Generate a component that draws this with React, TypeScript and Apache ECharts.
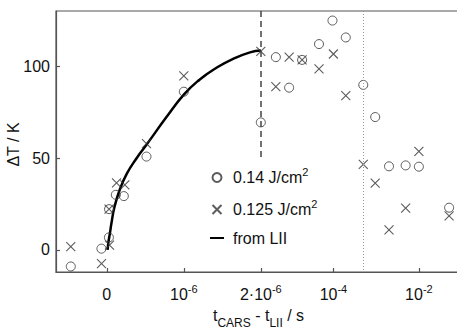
import React, { useEffect, useRef } from 'react';
import * as echarts from 'echarts';

// ---- axis mapping: linear up to 2 µs, logarithmic beyond ----
const LIN_END = 2e-6; // s
const US = 1e-6; // one axis unit in the linear part
const DECADE = 0.555; // axis units per decade in the log part

function toAxis(t: number): number {
  if (t <= LIN_END) return t / US;
  return LIN_END / US + Math.log10(t / LIN_END) * DECADE;
}

// ---- data (t in seconds, ΔT in K) ----
const circleName = '0.14 J/cm2';
const circleT = [-0.468e-6, -0.07e-6, 0.027e-6, 0.029e-6, 0.117e-6, 0.221e-6, 0.515e-6, 1.0e-6, 2.0e-6, 4.5e-6, 9.2e-6, 1.85e-5, 4.6e-5, 9.5e-5, 1.95e-4, 5e-4, 9.5e-4, 2e-3, 4.9e-3, 1e-2, 5.1e-2];
const circleY = [-9, 0.7, 6.8, 22.2, 30, 29.3, 50.8, 86.1, 69.4, 104.9, 88.3, 103.4, 112, 124.8, 115.6, 89.8, 72.3, 45.5, 46, 45.3, 23];

const crossName = '0.125 J/cm2';
const crossT = [-0.468e-6, -0.069e-6, 0.035e-6, 0.029e-6, 0.126e-6, 0.234e-6, 0.515e-6, 1.0e-6, 2.0e-6, 4.5e-6, 9.2e-6, 1.85e-5, 4.6e-5, 1e-4, 1.95e-4, 5e-4, 9.5e-4, 2e-3, 4.9e-3, 1e-2, 5.1e-2];
const crossY = [1.8, -7.5, 2.6, 22.2, 36.5, 35.4, 57.9, 94.7, 108, 88.9, 104.9, 103.4, 98.5, 106.6, 83.9, 46.6, 36.4, 10.9, 22.7, 53.6, 18.5];

const liiName = 'from LII';
const liiT = [0.01e-6, 0.02e-6, 0.04e-6, 0.06e-6, 0.1e-6, 0.17e-6, 0.26e-6, 0.38e-6, 0.52e-6, 0.77e-6, 1.0e-6, 1.2e-6, 1.42e-6, 1.64e-6, 1.86e-6, 2.0e-6];
const liiY = [0, 4, 9, 14.5, 23.5, 33, 41.5, 49.5, 57.5, 72, 84.5, 92.5, 99, 104, 107.5, 108.5];

const xTickTimes = [0, 1e-6, 2e-6, 1e-4, 1e-2];
const xTickLabels = ['{n|0}', '{n|10}{s|-6}', '{n|2·10}{s|-6}', '{n|10}{s|-4}', '{n|10}{s|-2}'];
const yTicks = [0, 50, 100];

const dashedT = 2e-6;
const dashedY = [130, 50];
const dottedT = 5e-4;
const dottedY = [130, -12];

const legendLabels: Record<string, string> = {
  [circleName]: '{n|0.14 J/cm}{s|2}',
  [crossName]: '{n|0.125 J/cm}{s|2}',
  [liiName]: '{n|from LII}',
};

const FONT = '"Liberation Sans", Arial, Helvetica, sans-serif';
const TXT = '#111';
const AX = '#555';
const MK = '#333';
const X_PATH = 'path://M0,0L10,10M10,0L0,10';

const richSup = {
  n: { fontSize: 16, lineHeight: 25, fontFamily: FONT, color: TXT },
  s: { fontSize: 11, lineHeight: 13, padding: [0, 0, 12, 0], fontFamily: FONT, color: TXT },
};
const richSub = {
  n: { fontSize: 16, lineHeight: 27, fontFamily: FONT, color: TXT },
  b: { fontSize: 12, lineHeight: 13, padding: [14, 0, 0, 0], fontFamily: FONT, color: TXT },
};

export default function App() {
  const ref = useRef<HTMLDivElement>(null);
  useEffect(() => {
    if (!ref.current) return;
    const chart = echarts.init(ref.current, null, { renderer: 'svg' });
    const tickU = xTickTimes.map(toAxis);
    chart.setOption({
      animation: false,
      backgroundColor: '#fff',
      grid: {
        left: 56, right: -4, top: 11, bottom: 60,
        containLabel: false, outerBoundsMode: 'none',
        show: true, borderColor: AX, borderWidth: 1.2,
      },
      xAxis: {
        type: 'value',
        min: -0.66,
        max: 4.6,
        splitLine: { show: false },
        axisLine: { show: true, onZero: false, lineStyle: { color: AX, width: 1.2 } },
        axisTick: { show: true, inside: true, length: 4, customValues: tickU, lineStyle: { color: AX, width: 1.2 } },
        axisLabel: {
          customValues: tickU,
          margin: 10,
          formatter: (v: number) => {
            const i = tickU.findIndex((u) => Math.abs(u - v) < 1e-6);
            return i >= 0 ? xTickLabels[i] : '';
          },
          rich: richSup,
        },
        name: '{n|t}{b|CARS}{n| - t}{b|LII}{n| / s}',
        nameLocation: 'middle',
        nameGap: 30,
        nameMoveOverlap: false,
        nameTextStyle: { rich: richSub },
      },
      yAxis: {
        type: 'value',
        min: -12,
        max: 130,
        splitLine: { show: false },
        axisLine: { show: true, onZero: false, lineStyle: { color: AX, width: 1.2 } },
        axisTick: { show: true, inside: true, length: 4, customValues: yTicks, lineStyle: { color: AX, width: 1.2 } },
        axisLabel: { customValues: yTicks, margin: 6, fontSize: 16, color: TXT, fontFamily: FONT },
        name: 'ΔT / K',
        nameLocation: 'middle',
        nameGap: 35,
        nameMoveOverlap: false,
        nameTextStyle: { fontSize: 16, color: TXT, fontFamily: FONT, padding: [0, 6, 0, 0] },
      },
      legend: {
        orient: 'vertical',
        left: 209,
        top: 166,
        padding: 0,
        itemWidth: 14,
        itemHeight: 9,
        itemGap: 9,
        selectedMode: false,
        data: [
          { name: circleName, icon: 'circle' },
          { name: crossName, icon: X_PATH },
          { name: liiName, itemStyle: { opacity: 0 } },
        ],
        formatter: (name: string) => legendLabels[name] || name,
        textStyle: { fontSize: 16, color: TXT, fontFamily: FONT, padding: [0, 0, 0, 4], rich: richSup },
      },
      series: [
        {
          name: liiName,
          type: 'line',
          data: liiT.map((t, i) => [toAxis(t), liiY[i]]),
          smooth: 0.5,
          symbol: 'none',
          lineStyle: { color: '#000', width: 2.5 },
          itemStyle: { color: '#000' },
          z: 3,
          markLine: {
            silent: true,
            symbol: ['none', 'none'],
            label: { show: false },
            data: [
              [
                { coord: [toAxis(dashedT), dashedY[0]], lineStyle: { type: [6, 4], color: '#444', width: 1.5 } },
                { coord: [toAxis(dashedT), dashedY[1]] },
              ],
              [
                { coord: [toAxis(dottedT), dottedY[0]], lineStyle: { type: [1, 2], color: '#999', width: 1 } },
                { coord: [toAxis(dottedT), dottedY[1]] },
              ],
            ],
          },
        },
        {
          name: circleName,
          type: 'scatter',
          data: circleT.map((t, i) => [toAxis(t), circleY[i]]),
          symbol: 'circle',
          symbolSize: 9,
          itemStyle: { color: 'transparent', borderColor: MK, borderWidth: 1 },
          z: 4,
        },
        {
          name: crossName,
          type: 'scatter',
          data: crossT.map((t, i) => [toAxis(t), crossY[i]]),
          symbol: X_PATH,
          symbolSize: 9,
          symbolKeepAspect: true,
          itemStyle: { color: 'transparent', borderColor: MK, borderWidth: 1.1 },
          z: 4,
        },
      ],
    });
    return () => chart.dispose();
  }, []);
  return <div ref={ref} style={{ position: 'fixed', left: 0, top: 0, width: 457, height: 332 }} />;
}
